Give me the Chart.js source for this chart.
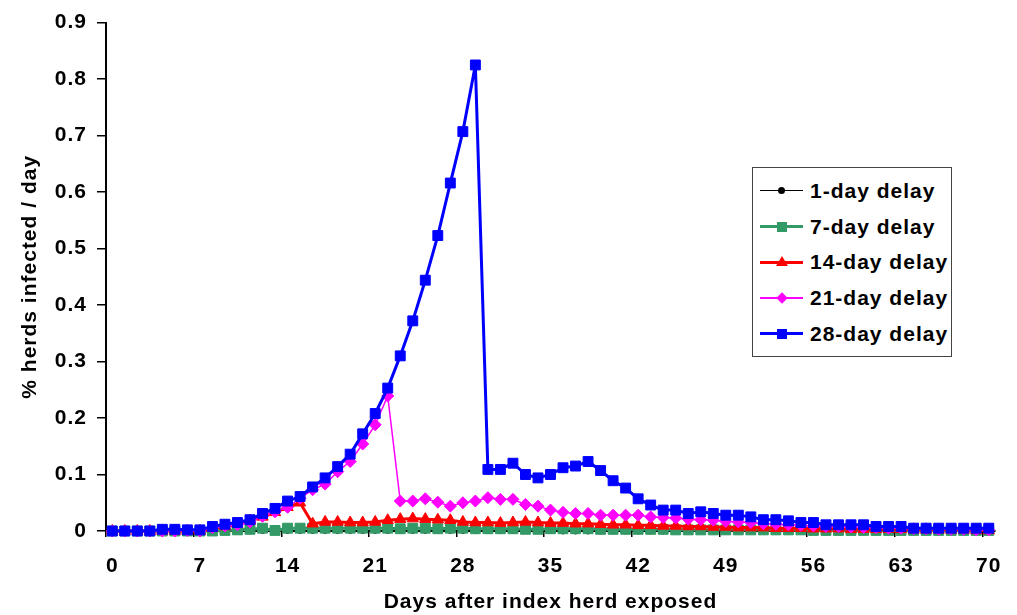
<!DOCTYPE html>
<html>
<head>
<meta charset="utf-8">
<script src="https://cdn.jsdelivr.net/npm/chart.js@4/dist/chart.umd.min.js"></script>
<style>
  body { margin: 0; background: #fff; }
  #wrap { position: relative; width: 1017px; height: 615px; }
  #legend {
    position: absolute; left: 752px; top: 167px; width: 198px; height: 183px;
    border: 1px solid #444; background: #fff; padding-top: 5px; box-sizing: content-box;
    font-family: "Liberation Sans", Arial, sans-serif; font-weight: bold; font-size: 21px;
    letter-spacing: 1px; color: #000;
  }
  .row { display: flex; align-items: center; height: 35.7px; }
  .sample { position: relative; width: 43px; margin-left: 7px; margin-right: 7px; height: 14px; }
  .sample .ln { position: absolute; left: 0; right: 0; top: 50%; }
  .sample .mk { position: absolute; left: 50%; top: 50%; }
</style>
</head>
<body>
<div id="wrap">
  <canvas id="chart" width="1017" height="615"></canvas>
  <div id="legend"></div>
</div>
<script>
// x axis: days 0..70, labels every 7 days
const days = [];
for (let d = 0; d <= 70; d++) days.push(d);
const xTickDays = [0, 7, 14, 21, 28, 35, 42, 49, 56, 63, 70];
const yTickValues = [0, 0.1, 0.2, 0.3, 0.4, 0.5, 0.6, 0.7, 0.8, 0.9];

const seriesNames = ['1-day delay', '7-day delay', '14-day delay', '21-day delay', '28-day delay'];

// % herds infected per day (day 0 .. day 70)
const delay1 = [
  0, 0, 0, 0, 0, 0, 0, 0, 0, 0,
  0, 0, 0.001, 0.001, 0.001, 0.001, 0.001, 0.001, 0.001, 0.001,
  0.001, 0.001, 0.001, 0.001, 0.001, 0.001, 0.001, 0.001, 0.001, 0.001,
  0.001, 0.001, 0.001, 0.001, 0.001, 0.001, 0, 0, 0, 0,
  0, 0, 0, 0, 0, 0, 0, 0, 0, 0,
  0, 0, 0, 0, 0, 0, 0, 0, 0, 0,
  0, 0, 0, 0, 0, 0, 0, 0, 0, 0,
  0
];
const delay7 = [
  0, 0, 0, 0, 0, 0, 0, 0, 0, 0.001,
  0.002, 0.003, 0.005, 0.001, 0.005, 0.005, 0.005, 0.005, 0.005, 0.005,
  0.005, 0.005, 0.005, 0.004, 0.005, 0.005, 0.004, 0.005, 0.005, 0.004,
  0.004, 0.004, 0.004, 0.003, 0.003, 0.004, 0.004, 0.004, 0.004, 0.003,
  0.003, 0.003, 0.003, 0.003, 0.003, 0.002, 0.002, 0.002, 0.002, 0.002,
  0.002, 0.002, 0.002, 0.002, 0.002, 0.002, 0.001, 0.001, 0.001, 0.001,
  0.001, 0.001, 0.001, 0.001, 0.001, 0.001, 0.001, 0.001, 0.001, 0.001,
  0.001
];
const delay14 = [
  0, 0, 0, 0, 0, 0, 0, 0, 0.005, 0.008,
  0.012, 0.018, 0.025, 0.033, 0.042, 0.05, 0.013, 0.016, 0.016, 0.015,
  0.015, 0.016, 0.019, 0.021, 0.022, 0.021, 0.02, 0.019, 0.016, 0.015,
  0.015, 0.014, 0.015, 0.016, 0.015, 0.014, 0.014, 0.013, 0.013, 0.012,
  0.011, 0.011, 0.01, 0.01, 0.009, 0.009, 0.008, 0.008, 0.007, 0.007,
  0.006, 0.006, 0.006, 0.005, 0.005, 0.005, 0.004, 0.004, 0.004, 0.003,
  0.003, 0.003, 0.003, 0.003, 0.002, 0.002, 0.002, 0.002, 0.002, 0.001,
  0.001
];
const delay21 = [
  0, 0, 0, 0, 0, 0, 0.001, 0, 0.006, 0.009,
  0.011, 0.016, 0.026, 0.034, 0.042, 0.058, 0.073, 0.083, 0.105, 0.123,
  0.154, 0.188, 0.239, 0.053, 0.053, 0.057, 0.051, 0.044, 0.05, 0.053,
  0.059, 0.056, 0.056, 0.047, 0.044, 0.037, 0.033, 0.031, 0.031, 0.028,
  0.028, 0.028, 0.028, 0.025, 0.024, 0.023, 0.021, 0.02, 0.019, 0.017,
  0.016, 0.015, 0.013, 0.012, 0.011, 0.01, 0.009, 0.008, 0.008, 0.007,
  0.006, 0.006, 0.005, 0.005, 0.004, 0.004, 0.003, 0.003, 0.003, 0.002,
  0.002
];
const delay28 = [
  0, 0, 0, 0, 0.003, 0.003, 0.002, 0.002, 0.008, 0.012,
  0.015, 0.02, 0.031, 0.04, 0.053, 0.061, 0.078, 0.094, 0.114, 0.136,
  0.172, 0.208, 0.253, 0.31, 0.372, 0.444, 0.523, 0.616, 0.707, 0.825,
  0.109, 0.109, 0.12, 0.1, 0.094, 0.1, 0.112, 0.115, 0.123, 0.107,
  0.089, 0.076, 0.057, 0.046, 0.037, 0.037, 0.031, 0.034, 0.031, 0.028,
  0.028, 0.025, 0.02, 0.02, 0.018, 0.015, 0.015, 0.011, 0.011, 0.011,
  0.011, 0.008, 0.008, 0.008, 0.005, 0.005, 0.005, 0.005, 0.005, 0.005,
  0.005
];

const FONT = '"Liberation Sans", Arial, sans-serif';

function toPoints(values) {
  return values.map((v, i) => ({ x: days[i], y: v }));
}

const styles = [
  { color: '#000000', width: 1, shape: 'circle', radius: 3, order: 5 },
  { color: '#339966', width: 3, shape: 'rect', radius: 7, order: 4 },
  { color: '#FF0000', width: 3, shape: 'triangle', radius: 6.5, order: 3 },
  { color: '#FF00FF', width: 1.5, shape: 'rectRot', radius: 6, order: 2 },
  { color: '#0000FF', width: 3, shape: 'rect', radius: 7, order: 1 }
];
const allSeries = [delay1, delay7, delay14, delay21, delay28];

const datasets = allSeries.map((vals, i) => ({
  label: seriesNames[i],
  data: toPoints(vals),
  borderColor: styles[i].color,
  backgroundColor: styles[i].color,
  borderWidth: styles[i].width,
  borderJoinStyle: 'round',
  pointStyle: styles[i].shape,
  pointRadius: styles[i].radius,
  pointBorderWidth: 1,
  pointBackgroundColor: styles[i].color,
  pointBorderColor: styles[i].color,
  tension: 0,
  clip: false,
  order: styles[i].order
}));

// the reference text is drawn a bit wide, canvas letterSpacing gets close
const spacing = {
  id: 'spacing',
  beforeUpdate(chart) { chart.ctx.letterSpacing = '1px'; },
  beforeDraw(chart) { chart.ctx.letterSpacing = '1px'; }
};

new Chart(document.getElementById('chart'), {
  type: 'line',
  data: { datasets: datasets },
  plugins: [spacing],
  options: {
    responsive: false,
    animation: false,
    layout: { padding: { top: 18, right: 22, bottom: 0, left: 0 } },
    plugins: { legend: { display: false }, tooltip: { enabled: false } },
    scales: {
      x: {
        type: 'linear',
        min: -0.5,
        max: 70.5,
        afterBuildTicks: s => { s.ticks = xTickDays.map(d => ({ value: d - 0.5 })); },
        afterFit: s => { s.height = 84; },
        ticks: {
          autoSkip: false, maxRotation: 0, labelOffset: 6.26, padding: 17,
          color: '#000', font: { family: FONT, size: 21, weight: 'bold' },
          callback: v => String(v + 0.5)
        },
        grid: { drawOnChartArea: false, drawTicks: true, tickLength: 6, color: '#000', lineWidth: 1.5 },
        border: { color: '#000', width: 2 },
        title: {
          display: true, text: 'Days after index herd exposed', color: '#000',
          font: { family: FONT, size: 21, weight: 'bold' }, padding: { top: 0, bottom: 0 }
        }
      },
      y: {
        min: 0,
        max: 0.9,
        afterBuildTicks: s => { s.ticks = yTickValues.map(v => ({ value: v })); },
        afterFit: s => { s.width = 106; },
        ticks: {
          padding: 10, color: '#000', font: { family: FONT, size: 21, weight: 'bold' },
          callback: v => v === 0 ? '0' : v.toFixed(1)
        },
        grid: { drawOnChartArea: false, drawTicks: true, tickLength: 9, color: '#000', lineWidth: 1.5 },
        border: { color: '#000', width: 2 },
        title: {
          display: true, text: '% herds infected / day', color: '#000',
          font: { family: FONT, size: 21, weight: 'bold' }, padding: { top: 18, bottom: 0 }
        }
      }
    }
  }
});

// legend drawn as html, same look as the excel one
const legend = document.getElementById('legend');
seriesNames.forEach((name, i) => {
  const st = styles[i];
  const row = document.createElement('div');
  row.className = 'row';
  const sample = document.createElement('span');
  sample.className = 'sample';
  const ln = document.createElement('span');
  ln.className = 'ln';
  ln.style.height = st.width + 'px';
  ln.style.marginTop = (-st.width / 2) + 'px';
  ln.style.background = st.color;
  sample.appendChild(ln);
  const mk = document.createElement('span');
  mk.className = 'mk';
  if (st.shape === 'circle') {
    Object.assign(mk.style, { width: '7px', height: '7px', marginLeft: '-3.5px', marginTop: '-3.5px', borderRadius: '50%', background: st.color });
  } else if (st.shape === 'rect') {
    Object.assign(mk.style, { width: '10px', height: '10px', marginLeft: '-5px', marginTop: '-5px', background: st.color });
  } else if (st.shape === 'triangle') {
    Object.assign(mk.style, { width: '0', height: '0', marginLeft: '-6px', marginTop: '-6px',
      borderLeft: '6px solid transparent', borderRight: '6px solid transparent', borderBottom: '10px solid ' + st.color });
  } else {
    Object.assign(mk.style, { width: '8px', height: '8px', marginLeft: '-4px', marginTop: '-4px', background: st.color, transform: 'rotate(45deg)' });
  }
  sample.appendChild(mk);
  row.appendChild(sample);
  const txt = document.createElement('span');
  txt.textContent = name;
  row.appendChild(txt);
  legend.appendChild(row);
});
</script>
</body>
</html>
